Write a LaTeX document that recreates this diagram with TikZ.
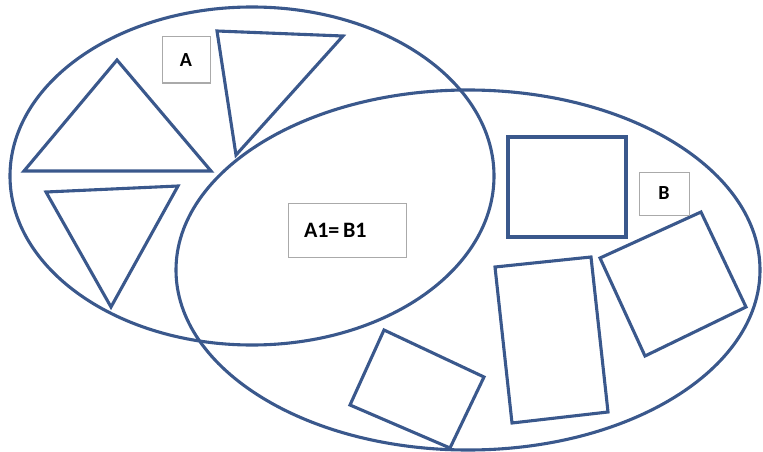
\documentclass[tikz,border=0pt]{standalone}
\usepackage{fontspec}
\setmainfont{Carlito}
\usetikzlibrary{shadows}
\definecolor{lineblue}{RGB}{58,88,140}
\definecolor{boxgray}{RGB}{170,170,170}
\begin{document}
\begin{tikzpicture}[x=1pt,y=-1pt,
  shape line/.style={draw=lineblue,line width=3.1pt,line join=miter},
  label box/.style={draw=boxgray,line width=1pt,fill=white,font=\bfseries\fontsize{20}{22}\selectfont,
    inner sep=0pt,drop shadow={shadow xshift=1pt,shadow yshift=-1pt,fill=black!25}}]
\useasboundingbox (0,0) rectangle (763,452);
% sets
\draw[shape line] (252,176) ellipse [x radius=242, y radius=169];
\draw[shape line] (468,270) ellipse [x radius=292, y radius=180];
% triangles
\draw[shape line] (117,60) -- (24,171) -- (211,171) -- cycle;
\draw[shape line] (217,31) -- (343,36) -- (236,155) -- cycle;
\draw[shape line] (46,192) -- (178,186) -- (111,307) -- cycle;
% rectangles
\draw[shape line] (508,137) -- (626,137) -- (626,237) -- (508,237) -- cycle;
\draw[shape line] (495,267) -- (591,257) -- (608,412) -- (512,423) -- cycle;
\draw[shape line] (600,258) -- (701,212) -- (746,307) -- (645,356) -- cycle;
\draw[shape line] (384,330) -- (484,377) -- (450,448) -- (350,405) -- cycle;
% labels
\node[label box,minimum width=48pt,minimum height=46pt] (la) at (186,60) {A};
\node[label box,minimum width=50pt,minimum height=43pt] (lb) at (664,193.5) {B};
\node[label box,minimum height=54pt,text width=118pt,align=left,
  font=\bfseries\fontsize{22}{24}\selectfont] (lab) at (347,230) {\hspace*{16pt}A1=\,B1};
\end{tikzpicture}
\end{document}
